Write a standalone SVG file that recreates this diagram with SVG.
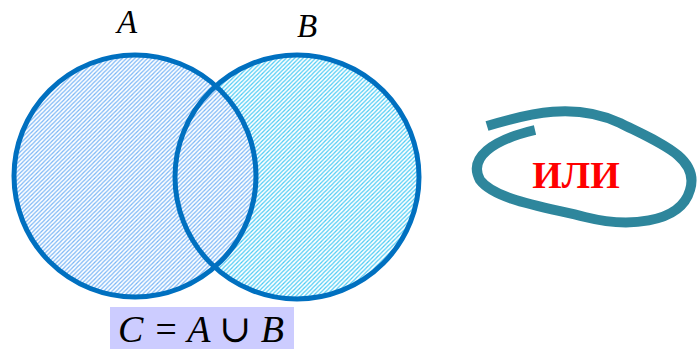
<svg xmlns="http://www.w3.org/2000/svg" width="697" height="349" viewBox="0 0 697 349">
<style>
.ring{fill:none;stroke:#0070c0;stroke-width:5}
.t{font-family:'Liberation Serif','Times New Roman',Tinos,'DejaVu Serif',serif}
</style>
<defs>
<pattern id="hA" width="4.2" height="4.2" patternUnits="userSpaceOnUse">
<rect width="4.2" height="4.2" fill="#ffffff"/>
<path d="M-1,1 L1,-1 M0,4.2 L4.2,0 M3.2,5.2 L5.2,3.2" stroke="#7ab6f6" stroke-width="1.2"/>
</pattern>
<pattern id="hB" width="4.2" height="4.2" patternUnits="userSpaceOnUse">
<rect width="4.2" height="4.2" fill="#ffffff"/>
<path d="M-1,1 L1,-1 M0,4.2 L4.2,0 M3.2,5.2 L5.2,3.2" stroke="#4ccbf4" stroke-width="1.2"/>
</pattern>
</defs>
<rect width="697" height="349" fill="#ffffff"/>
<g id="setB">
<circle cx="297" cy="177" r="122" fill="url(#hB)"/>
</g>
<g id="setA">
<circle cx="135" cy="176" r="121" fill="url(#hA)"/>
</g>
<g id="rings">
<circle class="ring" cx="297" cy="177" r="122"/>
<circle class="ring" cx="135" cy="176" r="121"/>
</g>
<text class="t" x="127" y="33" font-style="italic" font-size="33" text-anchor="middle">A</text>
<text class="t" x="307" y="37" font-style="italic" font-size="33" text-anchor="middle">B</text>
<g id="formula">
<rect x="110" y="307" width="184" height="42" fill="#ccccff"/>
<text class="t" x="201" y="342" font-style="italic" font-size="38" text-anchor="middle">C = A ∪ B</text>
</g>
<g id="or">
<path d="M487,126 C530,113 575,102 620,123 C660,143 700,158 690,190 C680,225 625,227 585,217 C545,207 495,200 480,180 C468,158 492,140 535,130" fill="none" stroke="#2e869c" stroke-width="10"/>
<text class="t" x="576" y="188" font-weight="bold" fill="#ff0000" font-size="38" text-anchor="middle">ИЛИ</text>
</g>
</svg>
